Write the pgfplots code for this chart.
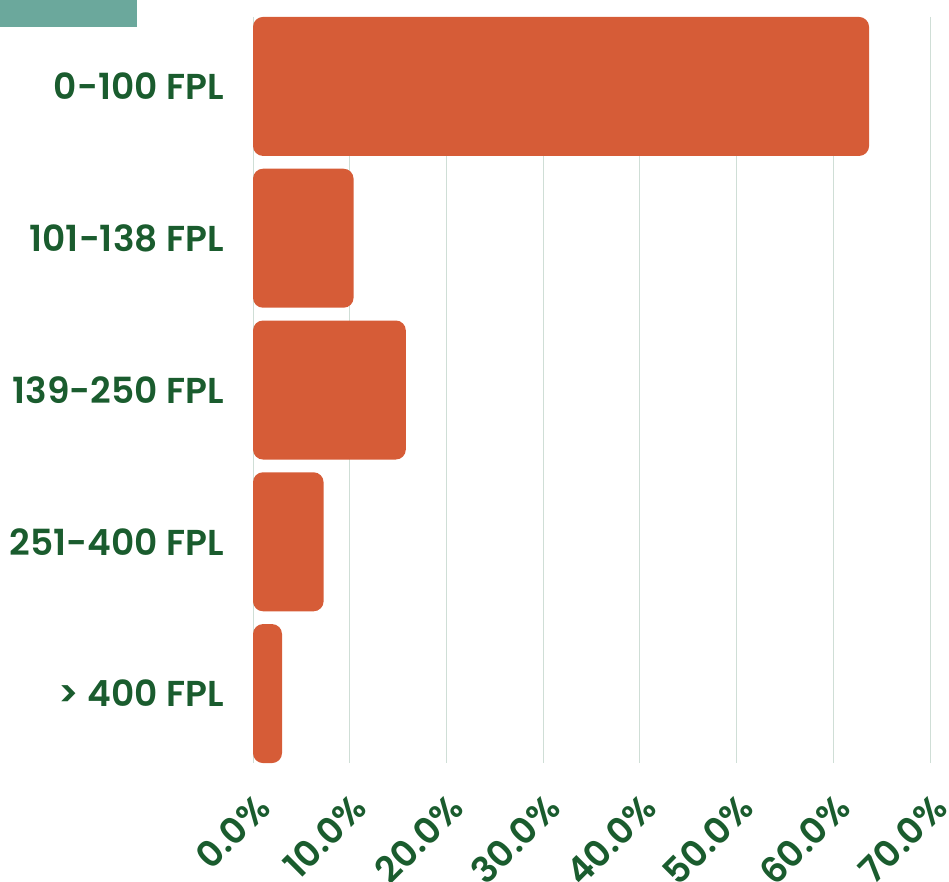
\documentclass[border=0pt]{standalone}
\usepackage{fontspec}
\setmainfont{Poppins}[BoldFont={Poppins SemiBold}]
\usepackage{pgfplots}
\pgfplotsset{compat=1.18}
\definecolor{barc}{HTML}{D65C37}
\definecolor{labc}{HTML}{1A5C2E}
\definecolor{gridc}{HTML}{CFDED6}
\definecolor{tealc}{HTML}{6BA89C}
\begin{document}
\begin{tikzpicture}
\path[use as bounding box] (0,0) rectangle (949pt,881pt);
\fill[tealc] (0,854pt) rectangle (137pt,881pt);
\begin{axis}[
  at={(253pt,118pt)}, anchor=south west,
  scale only axis, width=677pt, height=746pt,
  xbar, bar width=139pt,
  y dir=reverse,
  ymin=-0.4575, ymax=4.4575,
  % shift data by 5 so the left rounded corners are clipped away
  x filter/.code={\pgfmathparse{\pgfmathresult+5}},
  xmin=5, xmax=75,
  xtick={5,15,...,75},
  xticklabels={0.0\%,10.0\%,20.0\%,30.0\%,40.0\%,50.0\%,60.0\%,70.0\%},
  ytick={0,1,2,3,4},
  yticklabels={0-100 FPL,101-138 FPL,139-250 FPL,251-400 FPL,> 400 FPL},
  axis line style={draw=none},
  major tick length=0pt,
  xmajorgrids, grid style={gridc, line width=1pt},
  tick label style={font=\fontsize{36}{40}\selectfont\bfseries, text=labc, inner sep=0pt},
  yticklabel style={anchor=east, xshift=-29pt},
  xticklabel style={xshift=10pt, yshift=-38pt, rotate=45, anchor=east},
]
\addplot[fill=barc, draw=none, rounded corners=10pt] coordinates {
  (63.7,0) (10.4,1) (15.8,2) (7.3,3) (3.0,4)
};
\end{axis}
\end{tikzpicture}
\end{document}
